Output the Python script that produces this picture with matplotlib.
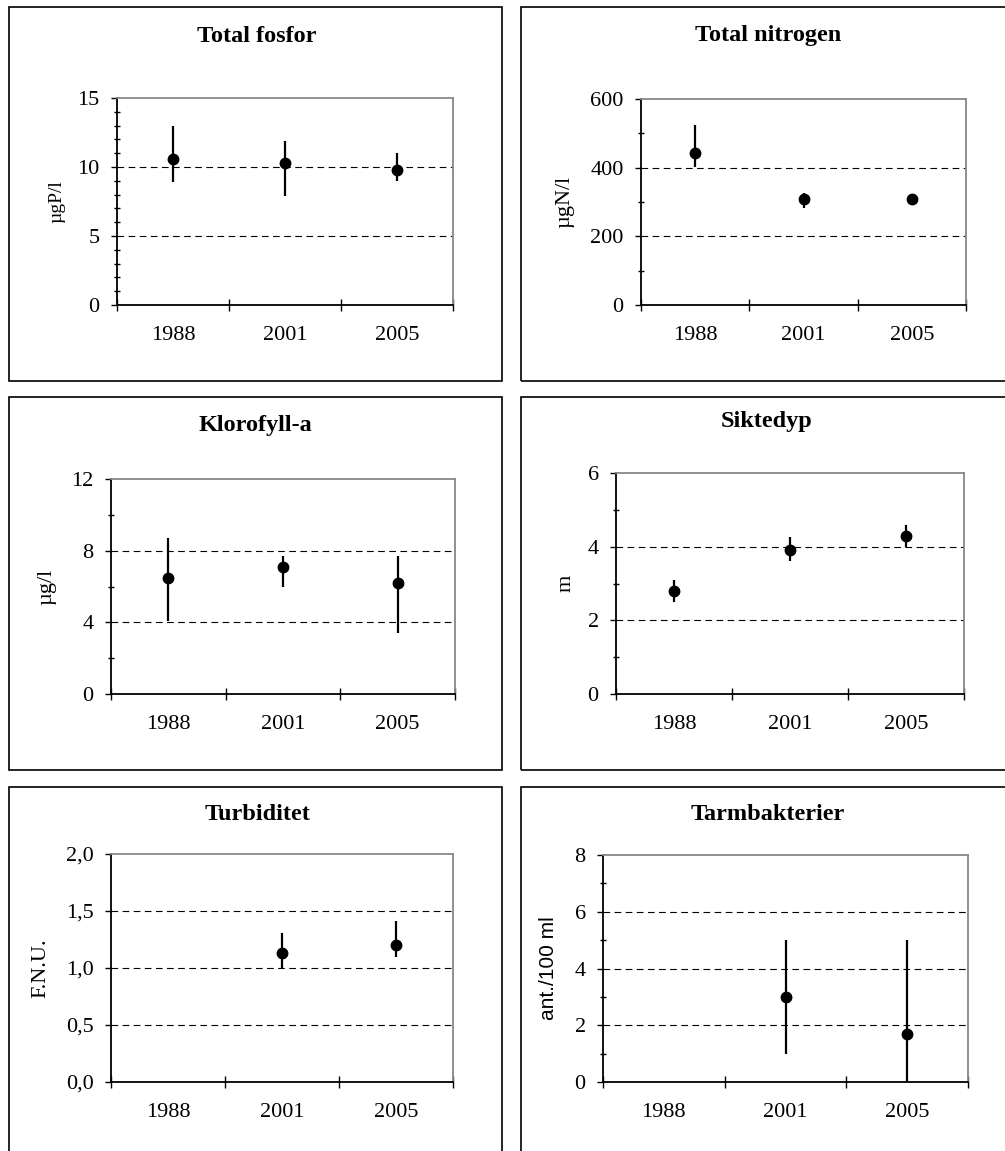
"""Six small water-quality panels (mean with min-max bars) for 1988, 2001 and 2005."""
import numpy as np
import matplotlib

matplotlib.use("Agg")
import matplotlib.pyplot as plt
from matplotlib.patches import Rectangle
from matplotlib.ticker import FuncFormatter, MultipleLocator

W, H = 1005, 1151
SERIF = "Liberation Serif"; SANS = "Liberation Sans"
C_FRAME = "#888888"

years = ["1988", "2001", "2005"]
nan = np.nan

fosfor_mean = [10.6, 10.3, 9.8]
fosfor_lo = [8.9, 7.9, 9.0]
fosfor_hi = [13.0, 11.9, 11.0]

nitrogen_mean = [442, 308, 308]
nitrogen_lo = [403, 282, 290]
nitrogen_hi = [525, 326, 316]

klorofyll_mean = [6.5, 7.1, 6.2]
klorofyll_lo = [4.1, 5.95, 3.4]
klorofyll_hi = [8.7, 7.7, 7.7]

sikt_mean = [2.8, 3.9, 4.3]
sikt_lo = [2.5, 3.6, 4.0]
sikt_hi = [3.1, 4.25, 4.6]

turb_mean = [nan, 1.13, 1.2]
turb_lo = [nan, 1.0, 1.1]
turb_hi = [nan, 1.31, 1.41]

tarm_mean = [nan, 3.0, 1.7]
tarm_lo = [nan, 1.0, 0.0]
tarm_hi = [nan, 5.0, 5.0]

# title, ylabel, data, (ymax, major, minor), axes box px (l, r, top, bottom),
# title centre px, ylabel centre x px, ylabel font, ylabel size, comma decimals
PANELS = [
    ("Total fosfor", "µgP/l", (fosfor_mean, fosfor_lo, fosfor_hi), (15, 5, 1),
     (117, 453, 98, 305), (257, 36), 57, SERIF, 14, False),
    ("Total nitrogen", "µgN/l", (nitrogen_mean, nitrogen_lo, nitrogen_hi), (600, 200, 100),
     (641, 966, 99, 305), (768, 36), 565, SERIF, 16, False),
    ("Klorofyll-a", "µg/l", (klorofyll_mean, klorofyll_lo, klorofyll_hi), (12, 4, 2),
     (111, 455, 479, 694), (255, 425), 47, SERIF, 16, False),
    ("Siktedyp", "m", (sikt_mean, sikt_lo, sikt_hi), (6, 2, 1),
     (616, 964, 473, 694), (767, 422), 566, SERIF, 16, False),
    ("Turbiditet", "F.N.U.", (turb_mean, turb_lo, turb_hi), (2.0, 0.5, None),
     (111, 453, 854, 1082), (257, 815), 41, SERIF, 16, True),
    ("Tarmbakterier", "ant./100 ml", (tarm_mean, tarm_lo, tarm_hi), (8, 2, 1),
     (603, 968, 855, 1082), (768, 815), 549, SANS, 15, False),
]

# outer frames (x0, x1, y0, y1) in px; right and bottom ones run off the canvas
FRAMES = [(9, 502, 7, 381), (521, 1012, 7, 381),
          (9, 502, 397, 770), (521, 1012, 397, 770),
          (9, 502, 787, 1160), (521, 1012, 787, 1160)]


def draw_panel(fig, title, ylabel, data, scale, box, tpos, ylx, yfont, ysize, comma):
    l, r, t, b = box
    ax = fig.add_axes([l / W, 1 - b / H, (r - l) / W, (b - t) / H])
    mean, lo, hi = (np.array(v, dtype=float) for v in data)
    x = np.arange(len(years)) + 0.5
    ymax, major, minor = scale

    for y in np.arange(major, ymax - major / 2, major):
        ax.axhline(y, color="black", lw=0.8, ls=(0, (6, 4)), zorder=1)
    ax.errorbar(x, mean, yerr=[mean - lo, hi - mean], fmt="o", color="black",
                ms=7.5, elinewidth=1.6, capsize=0, zorder=3)

    ax.set_xlim(0, len(years)); ax.set_ylim(0, ymax)
    ax.set_xticks(np.arange(len(years) + 1)); ax.set_xticklabels([])
    ax.set_xticks(x, minor=True); ax.set_xticklabels(years, minor=True)
    ax.tick_params(axis="x", which="major", direction="inout", length=9, width=1)
    ax.tick_params(axis="x", which="minor", length=0, pad=15)
    ax.yaxis.set_major_locator(MultipleLocator(major))
    if minor:
        ax.yaxis.set_minor_locator(MultipleLocator(minor))
        ax.tick_params(axis="y", which="minor", direction="inout", length=5, width=1)
    ax.tick_params(axis="y", which="major", direction="out", length=4.5, width=1, pad=8)
    if comma:
        ax.yaxis.set_major_formatter(FuncFormatter(lambda v, _: f"{v:.1f}".replace(".", ",")))
    for lab in ax.get_xticklabels(minor=True) + ax.get_yticklabels():
        lab.set_fontfamily(SERIF); lab.set_fontsize(16)

    for s in ("left", "bottom"):
        ax.spines[s].set_color("black"); ax.spines[s].set_linewidth(1.3)
    for s in ("top", "right"):
        ax.spines[s].set_color(C_FRAME); ax.spines[s].set_linewidth(1.3)

    ax.set_ylabel(ylabel, family=yfont, fontsize=ysize, va="center")
    ax.yaxis.set_label_coords((ylx - l) / (r - l), 0.5)
    fig.text(tpos[0] / W, 1 - tpos[1] / H, title, family=SERIF, fontsize=17.5,
             fontweight="bold", ha="center", va="center")


def main():
    fig = plt.figure(figsize=(W / 100, H / 100), dpi=100)
    for x0, x1, y0, y1 in FRAMES:
        fig.add_artist(Rectangle((x0 / W, 1 - y1 / H), (x1 - x0) / W, (y1 - y0) / H,
                                 transform=fig.transFigure, fill=False, ec="black", lw=1.2))
    for p in PANELS:
        draw_panel(fig, *p)
    fig.savefig("out.png", dpi=100)
    plt.close(fig)


if __name__ == "__main__":
    main()
